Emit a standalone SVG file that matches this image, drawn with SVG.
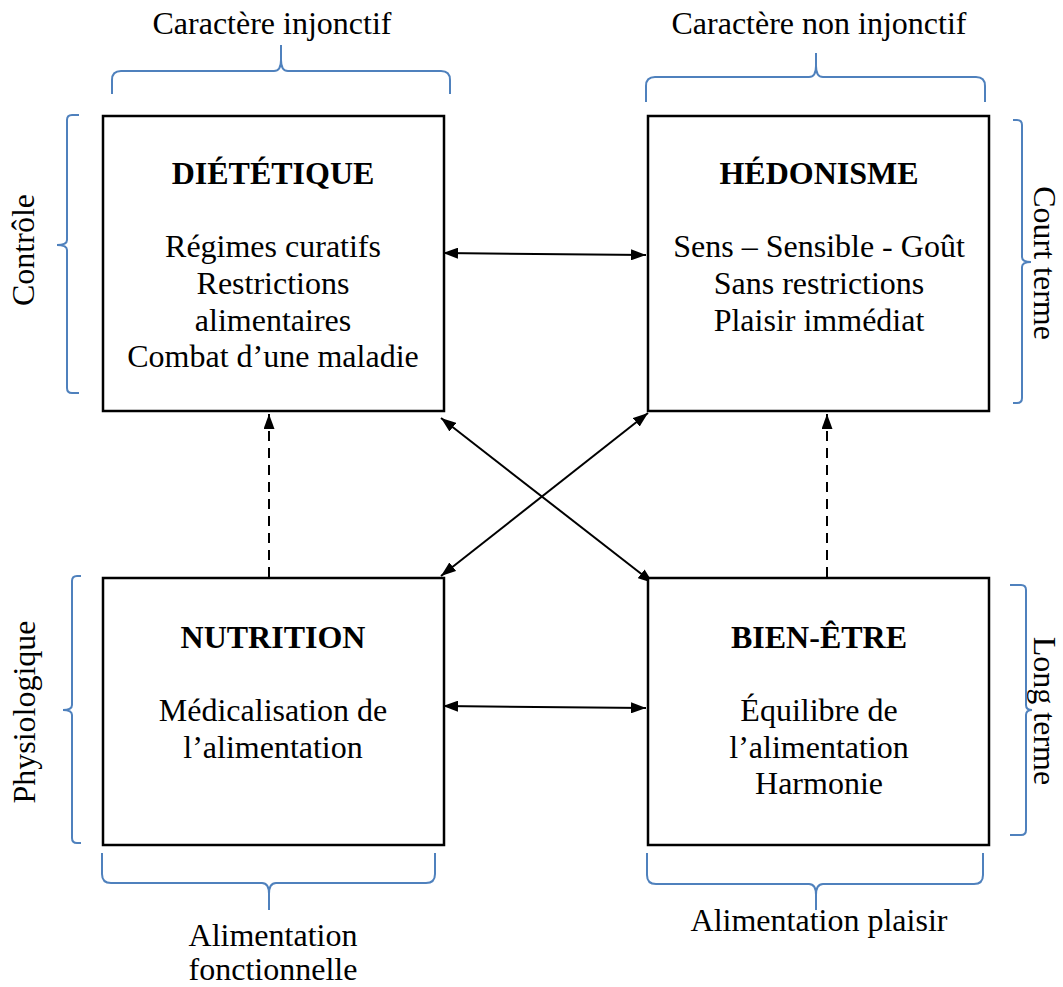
<svg xmlns="http://www.w3.org/2000/svg" width="1063" height="987" viewBox="0 0 1063 987">
<defs>
<style>
.box{fill:#fff;stroke:#000;stroke-width:2.5}
.t{font-family:"Liberation Serif","Times New Roman",serif;font-size:32px;fill:#000;text-anchor:middle}
.b{font-weight:bold}
.brace{fill:none;stroke:#4f81bd;stroke-width:2}
.arr{stroke:#000;stroke-width:2;fill:none}
.dash{stroke-dasharray:10 7}
</style>
<marker id="ah" viewBox="0 0 15 11" refX="15" refY="5.5" markerWidth="15" markerHeight="11" markerUnits="userSpaceOnUse" orient="auto-start-reverse">
<path d="M0,0 L15,5.5 L0,11 z" fill="#000"/>
</marker>
</defs>
<rect width="1063" height="987" fill="#fff"/>

<g id="labels">
<text class="t" x="272" y="34">Caractère injonctif</text>
<text class="t" x="819" y="34">Caractère non injonctif</text>
<text class="t" x="273" y="946">Alimentation<tspan x="273" dy="34">fonctionnelle</tspan></text>
<text class="t" x="819" y="931">Alimentation plaisir</text>
<text class="t" transform="translate(34,250) rotate(-90)">Contrôle</text>
<text class="t" transform="translate(35,712) rotate(-90)">Physiologique</text>
<text class="t" transform="translate(1034,263) rotate(90)">Court terme</text>
<text class="t" transform="translate(1034,711) rotate(90)">Long terme</text>
</g>

<g id="braces">
<path class="brace" d="M112,94 V80 Q112,71 121,71 H274 Q281,71 281,60 V45 V60 Q281,71 288,71 H441 Q450,71 450,80 V94"/>
<path class="brace" d="M646,102 V86 Q646,77 655,77 H809 Q816,77 816,66 V53 V66 Q816,77 823,77 H976 Q985,77 985,86 V102"/>
<path class="brace" d="M102,853 V874 Q102,883 111,883 H262 Q269,883 269,894 V910 V894 Q269,883 276,883 H426 Q435,883 435,874 V853"/>
<path class="brace" d="M647,853 V875 Q647,884 656,884 H809 Q816,884 816,895 V910 V895 Q816,884 823,884 H974 Q983,884 983,875 V853"/>
<path class="brace" d="M79,115 H72 Q67,115 67,120 V240 Q67,245 57,245 Q67,245 67,250 V388 Q67,393 72,393 H79"/>
<path class="brace" d="M81,576 H77 Q72,576 72,581 V705 Q72,710 63,710 Q72,710 72,715 V838 Q72,843 77,843 H81"/>
<path class="brace" d="M1013,120 H1017 Q1022,120 1022,125 V257 Q1022,262 1031,262 Q1022,262 1022,267 V398 Q1022,403 1017,403 H1013"/>
<path class="brace" d="M1010,585 H1021 Q1026,585 1026,590 V705 Q1026,710 1032,710 Q1026,710 1026,715 V830 Q1026,835 1021,835 H1010"/>
</g>

<g id="connectors">
<line class="arr" x1="443" y1="253" x2="646" y2="255" marker-start="url(#ah)" marker-end="url(#ah)"/>
<line class="arr" x1="443" y1="706" x2="646" y2="708" marker-start="url(#ah)" marker-end="url(#ah)"/>
<line class="arr" x1="441" y1="418" x2="653" y2="583" marker-start="url(#ah)" marker-end="url(#ah)"/>
<line class="arr" x1="441" y1="576" x2="648" y2="413" marker-start="url(#ah)" marker-end="url(#ah)"/>
<line class="arr dash" x1="269" y1="577" x2="269" y2="414" marker-end="url(#ah)"/>
<line class="arr dash" x1="827" y1="577" x2="827" y2="414" marker-end="url(#ah)"/>
</g>

<g id="dietetique">
<rect class="box" x="103" y="116" width="341" height="295"/>
<text class="t b" x="273" y="184">DIÉTÉTIQUE</text>
<text class="t" x="273" y="257">Régimes curatifs<tspan x="273" dy="37">Restrictions</tspan><tspan x="273" dy="37">alimentaires</tspan><tspan x="273" dy="36">Combat d’une maladie</tspan></text>
</g>

<g id="hedonisme">
<rect class="box" x="648" y="116" width="341" height="295"/>
<text class="t b" x="819" y="184">HÉDONISME</text>
<text class="t" x="819" y="257">Sens – Sensible - Goût<tspan x="819" dy="37">Sans restrictions</tspan><tspan x="819" dy="37">Plaisir immédiat</tspan></text>
</g>

<g id="nutrition">
<rect class="box" x="103" y="578" width="341" height="267"/>
<text class="t b" x="273" y="648">NUTRITION</text>
<text class="t" x="273" y="721">Médicalisation de<tspan x="273" dy="37">l’alimentation</tspan></text>
</g>

<g id="bienetre">
<rect class="box" x="648" y="578" width="341" height="267"/>
<text class="t b" x="819" y="648">BIEN-ÊTRE</text>
<text class="t" x="819" y="721">Équilibre de<tspan x="819" dy="37">l’alimentation</tspan><tspan x="819" dy="36">Harmonie</tspan></text>
</g>
</svg>
